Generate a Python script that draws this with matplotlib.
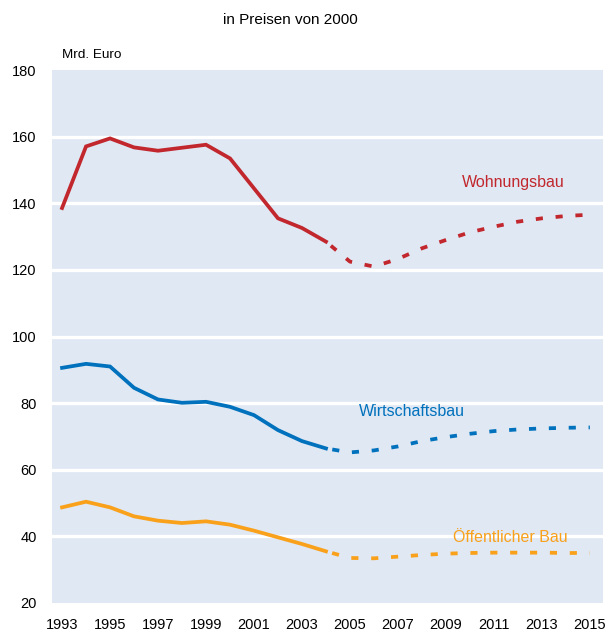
import matplotlib
matplotlib.use("Agg")
import matplotlib.pyplot as plt

plt.rcParams["font.family"] = ["Liberation Sans", "DejaVu Sans"]

years_hist = list(range(1993, 2005))
years_fc = list(range(2004, 2016))

wohnungsbau_hist = [138.6, 157.1, 159.5, 156.8, 155.8, 156.7, 157.6, 153.5, 144.5, 135.5, 132.6, 128.5]
wohnungsbau_fc = [128.5, 122.5, 121.0, 123.3, 126.5, 129.0, 131.3, 133.0, 134.5, 135.5, 136.2, 136.6]

wirtschaftsbau_hist = [90.6, 91.8, 91.0, 84.6, 81.1, 80.1, 80.4, 78.9, 76.4, 71.9, 68.6, 66.4]
wirtschaftsbau_fc = [66.4, 65.2, 65.8, 67.0, 68.6, 69.8, 70.8, 71.6, 72.1, 72.4, 72.6, 72.7]

oeffentlich_hist = [48.7, 50.4, 48.7, 46.0, 44.7, 44.0, 44.5, 43.5, 41.7, 39.7, 37.7, 35.5]
oeffentlich_fc = [35.5, 33.5, 33.4, 33.9, 34.4, 34.8, 35.0, 35.1, 35.1, 35.1, 35.0, 35.0]

series = [
    ("Wohnungsbau", wohnungsbau_hist, wohnungsbau_fc, "#c1272d", (2011.8, 146.2)),
    ("Wirtschaftsbau", wirtschaftsbau_hist, wirtschaftsbau_fc, "#0071bc", (2007.6, 77.4)),
    ("Öffentlicher Bau", oeffentlich_hist, oeffentlich_fc, "#f9a11b", (2011.7, 39.6)),
]

fig = plt.figure(figsize=(6.08, 6.32), dpi=100)
ax = fig.add_axes([0.0855, 0.046, 0.906, 0.843])
ax.set_facecolor("#e0e8f3")
for s in ax.spines.values():
    s.set_visible(False)

for v in range(40, 180, 20):
    ax.axhline(v, color="white", lw=2.4, zorder=1)

for name, hist, fc, col, (tx, ty) in series:
    ax.plot(years_hist, hist, color=col, lw=2.7, solid_joinstyle="miter", zorder=3)
    ax.plot(years_fc, fc, color=col, lw=2.7, dash_capstyle="butt",
            linestyle=(3.6, (1.9, 3.4)), zorder=3)
    ax.text(tx, ty, name, color=col, fontsize=11.5, ha="center", va="center")

ax.set_xlim(1992.58, 2015.54)
ax.set_ylim(20, 180)
ax.set_xticks(range(1993, 2016, 2))
ax.set_yticks(range(20, 181, 20))
ax.tick_params(length=0, labelsize=10.5, colors="black")
ax.tick_params(axis="x", pad=11)
ax.tick_params(axis="y", pad=11)

fig.text(0.477, 0.968, "in Preisen von 2000", ha="center", va="center", fontsize=11)
fig.text(0.102, 0.913, "Mrd. Euro", ha="left", va="center", fontsize=9.7)

fig.savefig("out.png", dpi=100)
